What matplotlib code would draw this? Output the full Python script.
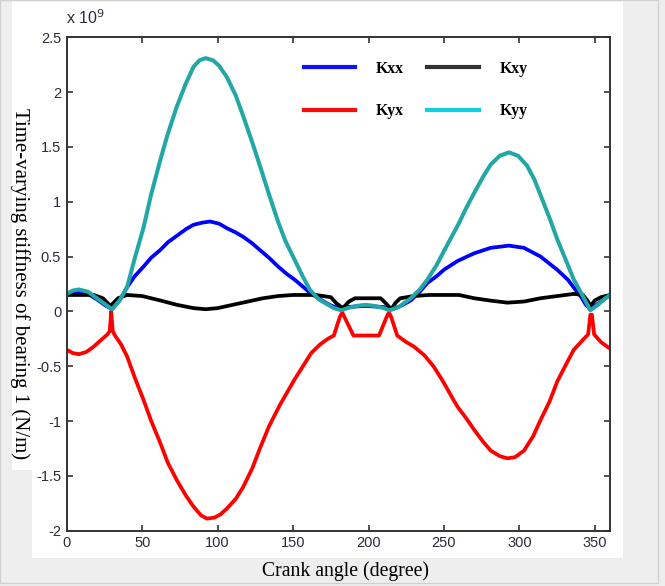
"""Time-varying stiffness of bearing 1 over one crank revolution."""

import matplotlib
matplotlib.use('Agg')
import matplotlib.pyplot as plt
from matplotlib.lines import Line2D
from matplotlib.patches import Rectangle

# ── Data (stiffness in units of 1e9 N/m) ──
kyy_x = [0, 4, 8, 14, 20, 25, 30, 35, 40, 45, 51, 56, 62, 67, 73, 79, 84, 88, 92,
         97, 101, 106, 112, 117, 123, 128, 134, 140, 145, 150, 156, 161, 167, 172,
         177, 182, 186, 192, 198, 204, 210, 214, 220, 228, 234, 239, 245, 250, 255,
         259, 265, 270, 276, 281, 287, 293, 299, 305, 310, 314, 320, 325, 331, 336,
         342, 347, 352, 356, 360]
kyy_y = [0.16, 0.19, 0.20, 0.18, 0.12, 0.07, 0.02, 0.10, 0.22, 0.48, 0.77, 1.07,
         1.38, 1.62, 1.87, 2.08, 2.23, 2.29, 2.31, 2.29, 2.24, 2.14, 1.97, 1.78,
         1.54, 1.33, 1.07, 0.82, 0.64, 0.50, 0.33, 0.20, 0.11, 0.07, 0.03, 0.01,
         0.03, 0.05, 0.06, 0.05, 0.03, 0.01, 0.04, 0.12, 0.20, 0.29, 0.42, 0.55,
         0.68, 0.78, 0.95, 1.08, 1.23, 1.34, 1.42, 1.45, 1.42, 1.33, 1.20, 1.06,
         0.85, 0.66, 0.46, 0.29, 0.14, 0.01, 0.06, 0.11, 0.15]

kxx_x = [0, 4, 8, 14, 20, 25, 30, 35, 40, 45, 51, 56, 62, 67, 73, 79, 84, 90, 95,
         101, 106, 112, 117, 123, 128, 134, 140, 146, 151, 157, 162, 168, 174, 180,
         186, 198, 210, 215, 220, 228, 234, 239, 245, 250, 259, 270, 281, 293, 303,
         314, 325, 332, 337, 341, 344, 347, 352, 356, 360]
kxx_y = [0.15, 0.17, 0.18, 0.16, 0.11, 0.06, 0.02, 0.10, 0.22, 0.32, 0.41, 0.49,
         0.56, 0.63, 0.69, 0.75, 0.79, 0.81, 0.82, 0.80, 0.76, 0.72, 0.68, 0.62,
         0.56, 0.49, 0.41, 0.34, 0.29, 0.22, 0.16, 0.11, 0.06, 0.03, 0.04, 0.05,
         0.04, 0.02, 0.04, 0.10, 0.18, 0.26, 0.32, 0.38, 0.46, 0.53, 0.58, 0.60,
         0.58, 0.50, 0.38, 0.29, 0.20, 0.13, 0.06, 0.02, 0.07, 0.11, 0.15]

kxy_x = [0, 18, 24, 29, 34, 40, 50, 62, 73, 84, 92, 100, 110, 120, 130, 140, 150,
         165, 175, 179, 183, 187, 191, 208, 211, 215, 218, 221, 230, 240, 260, 270,
         280, 292, 303, 314, 325, 336, 342, 345, 347, 350, 354, 360]
kxy_y = [0.15, 0.15, 0.12, 0.05, 0.12, 0.15, 0.14, 0.10, 0.06, 0.03, 0.02, 0.03,
         0.06, 0.09, 0.12, 0.14, 0.15, 0.15, 0.13, 0.07, 0.03, 0.09, 0.12, 0.12,
         0.08, 0.02, 0.08, 0.12, 0.14, 0.15, 0.15, 0.12, 0.10, 0.08, 0.09, 0.12,
         0.14, 0.16, 0.15, 0.10, 0.05, 0.10, 0.13, 0.15]

kyx_x = [0, 4, 8, 13, 18, 22, 27, 28.5, 29.5, 30.5, 32, 36, 40, 45, 51, 56, 62, 67,
         73, 79, 84, 89, 93, 98, 102, 106, 112, 117, 123, 128, 134, 141, 146, 151,
         157, 162, 168, 173, 177, 181, 182.6, 184, 190, 207, 212, 213.5, 215, 219,
         225, 230, 237, 243, 249, 256, 259, 265, 270, 276, 281, 287, 292, 297, 303,
         309, 314, 320, 325, 331, 336, 342, 345.5, 347, 348, 349.5, 354, 360]
kyx_y = [-0.35, -0.38, -0.39, -0.37, -0.32, -0.27, -0.21, -0.18, 0.0, -0.18, -0.22,
         -0.30, -0.41, -0.60, -0.81, -1.00, -1.20, -1.38, -1.54, -1.68, -1.78,
         -1.86, -1.89, -1.88, -1.85, -1.80, -1.71, -1.60, -1.43, -1.25, -1.05,
         -0.86, -0.74, -0.62, -0.49, -0.38, -0.30, -0.25, -0.22, -0.05, -0.01,
         -0.05, -0.22, -0.22, -0.05, -0.01, -0.05, -0.22, -0.28, -0.32, -0.40,
         -0.50, -0.63, -0.80, -0.87, -0.98, -1.08, -1.19, -1.27, -1.32, -1.34,
         -1.33, -1.27, -1.14, -0.99, -0.82, -0.64, -0.48, -0.35, -0.26, -0.21,
         -0.03, -0.03, -0.21, -0.28, -0.34]

x_ticks = [0, 50, 100, 150, 200, 250, 300, 350]
y_ticks = [-2, -1.5, -1, -0.5, 0, 0.5, 1, 1.5, 2, 2.5]
y_tick_labels = ['-2', '-1.5', '-1', '-0.5', '0', '0.5', '1', '1.5', '2', '2.5']

# ── Figure with gray surround and white panel ──
W, H = 665, 586
fig = plt.figure(figsize=(W / 100, H / 100), dpi=100, facecolor='#eeeeee')
fig.patches.append(Rectangle((32 / W, 1 - 558 / H), (623 - 32) / W, 558 / H,
                             transform=fig.transFigure, facecolor='white',
                             edgecolor='none', zorder=-10))
fig.patches.append(Rectangle((12 / W, 1 - 470 / H), 22 / W, 470 / H,
                             transform=fig.transFigure, facecolor='white',
                             edgecolor='none', zorder=-10))
fig.patches.append(Rectangle((0, 1 - 583 / H), 658 / W, 583 / H,
                             transform=fig.transFigure, facecolor='none',
                             edgecolor='#d0d0d0', lw=1.0, zorder=-10))

ax = fig.add_axes([66.7 / W, 1 - 530.7 / H, (610 - 66.7) / W, (530.7 - 37.3) / H])
ax.set_facecolor('white')

# ── Curves ──
lw = 2.7
ax.plot(kyx_x, kyx_y, color='#ff0000', lw=lw)
ax.plot(kxx_x, kxx_y, color='#0000ff', lw=lw)
ax.plot(kxy_x, kxy_y, color='#000000', lw=lw)
ax.plot(kyy_x, kyy_y, color='#23a6a6', lw=2.9)

# ── Axes setup (MATLAB-like) ──
ax.set_xlim(0, 360)
ax.set_ylim(-2, 2.5)
ax.set_xticks(x_ticks)
ax.set_yticks(y_ticks)
ax.set_yticklabels(y_tick_labels)
ax.tick_params(direction='in', length=4, width=1.2, top=True, right=True,
               labelsize=10.5, labelcolor='#2b2b3a', color='#333333', pad=4)
for lab in ax.get_xticklabels() + ax.get_yticklabels():
    lab.set_fontfamily('Liberation Sans')
for sp in ax.spines.values():
    sp.set_linewidth(1.4)
    sp.set_color('#333333')

fig.text(66 / W, 1 - 18 / H, r'x 10$^{9}$', fontsize=11.5, family='Liberation Sans',
         color='#2b2b3a', ha='left', va='center')

# ── Legend ──
handles = [
    Line2D([], [], color='#1010ff', lw=3),
    Line2D([], [], color='#ff0a0a', lw=3),
    Line2D([], [], color='#333333', lw=3),
    Line2D([], [], color='#10d0e0', lw=3),
]
labels = ['Kxx', 'Kyx', 'Kxy', 'Kyy']
ax.legend(handles, labels, ncol=2, loc='upper left', bbox_to_anchor=(0.41, 0.981),
          frameon=False, prop={'family': 'Liberation Serif', 'weight': 'bold', 'size': 11.3},
          handlelength=3.3, handletextpad=1.3, columnspacing=1.5, labelspacing=1.7)

# ── Labels ──
fig.text(345 / W, 1 - 571 / H, 'Crank angle (degree)', fontsize=14.2,
         family='Liberation Serif', ha='center', va='center')
fig.text(20 / W, 1 - 284 / H, 'Time-varying stiffness of bearing 1 (N/m)', fontsize=15,
         family='Liberation Serif', rotation=-90, ha='center', va='center')

fig.savefig('out.png', dpi=100, facecolor=fig.get_facecolor())
